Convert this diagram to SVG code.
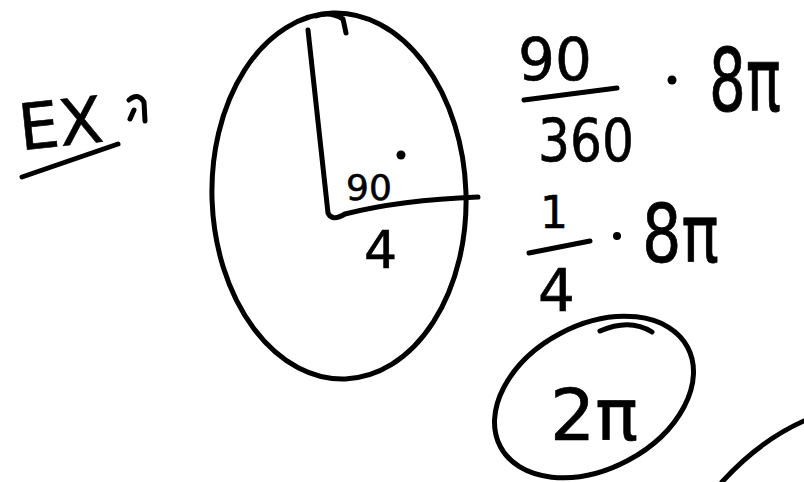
<svg xmlns="http://www.w3.org/2000/svg" width="804" height="482" viewBox="0 0 804 482">
<style>
.s{fill:none;stroke:#000;stroke-width:5;stroke-linecap:round;stroke-linejoin:round}
.t{font-family:"DejaVu Sans",sans-serif;fill:#000;stroke:#000;stroke-width:0.6}
</style>
<rect width="804" height="482" fill="#fff"/>
<g id="ex">
<text class="t" x="18" y="146" font-size="64" transform="rotate(-6 60 120)">EX</text>
<path class="s" d="M22 177 L118 144"/>
<path class="s" d="M129 100 Q138 92 144 102 L145 121 M134 110 L130 119"/>
</g>
<g id="circle">
<ellipse class="s" cx="339" cy="196" rx="127" ry="183" transform="rotate(-2 339 196)"/>
<path class="s" d="M316 16 Q330 11 343 19 L346 33"/>
<path class="s" d="M308 30 L328 213 Q332 222 345 214 Q400 200 478 197"/>
<text class="t" x="346" y="200" font-size="36">90</text>
<circle cx="401" cy="155" r="4.5"/>
<text class="t" x="364" y="268" font-size="52">4</text>
</g>
<g id="calc1">
<text class="t" x="518" y="80" font-size="58">90</text>
<path class="s" d="M524 100 L617 88"/>
<text class="t" x="538" y="161" font-size="58" textLength="96" lengthAdjust="spacingAndGlyphs">360</text>
<circle cx="672" cy="80" r="4.5"/>
<text class="t" x="0" y="0" font-size="58" transform="translate(709 111) scale(1 1.5)">8π</text>
</g>
<g id="calc2">
<text class="t" x="540" y="228" font-size="44">1</text>
<path class="s" d="M529 253 L590 241"/>
<text class="t" x="538" y="311" font-size="58">4</text>
<circle cx="617" cy="236" r="4"/>
<text class="t" x="0" y="0" font-size="62" transform="translate(642 262) scale(1 1.3)">8π</text>
</g>
<g id="answer">
<ellipse class="s" cx="594" cy="397" rx="106" ry="72" transform="rotate(-28 594 397)"/>
<path class="s" d="M600 331 Q630 318 652 332"/>
<text class="t" x="550" y="440" font-size="72" textLength="88" lengthAdjust="spacingAndGlyphs">2π</text>
</g>
<path class="s" d="M722 482 Q760 440 806 420"/>
</svg>
